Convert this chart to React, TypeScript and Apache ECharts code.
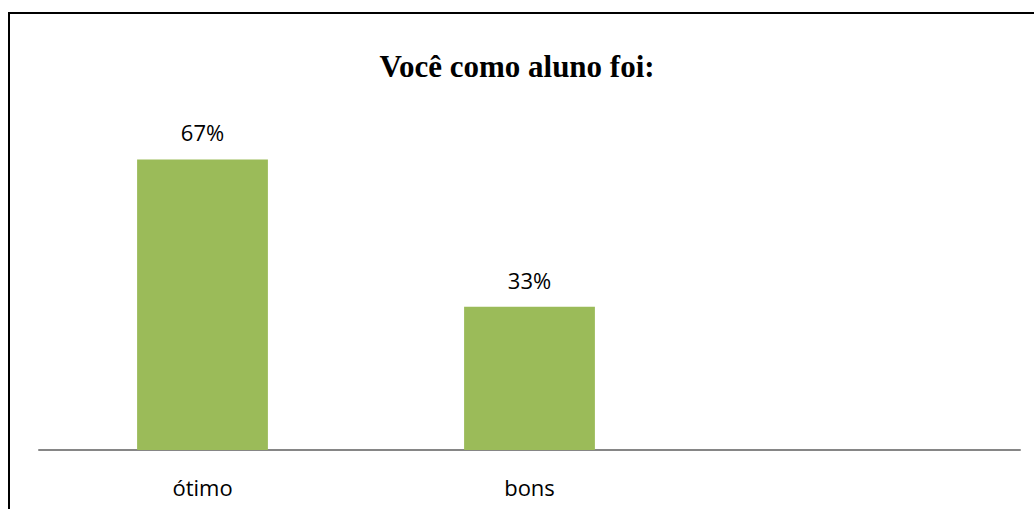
import React, { useEffect, useRef } from "react";
import * as echarts from "echarts";

const categories = ["ótimo", "bons", ""];
const values = [0.67, 0.33, null];
const titleText = "Você como aluno foi:";

export default function App() {
  const ref = useRef<HTMLDivElement>(null);
  useEffect(() => {
    document.body.style.margin = "0";
    const chart = echarts.init(ref.current!, null, { renderer: "svg" });
    chart.setOption({
      animation: false,
      backgroundColor: "#ffffff",
      title: {
        text: titleText,
        left: "center",
        top: 46,
        textStyle: {
          fontFamily: "Liberation Serif",
          fontWeight: "bold",
          fontSize: 31,
          color: "#000000",
        },
      },
      graphic: [
        {
          type: "rect",
          shape: { x: 9, y: 13, width: 1200, height: 700 },
          style: { fill: "none", stroke: "#000000", lineWidth: 2 },
          silent: true,
        },
      ],
      grid: { left: 39, right: 14, top: 103, bottom: 59 },
      xAxis: {
        type: "category",
        data: categories,
        axisLine: { lineStyle: { color: "#868686", width: 2 } },
        axisTick: { show: false },
        axisLabel: {
          color: "#000000",
          fontFamily: "Open Sans",
          fontSize: 22,
          margin: 26,
        },
      },
      yAxis: {
        type: "value",
        min: 0,
        max: 0.8,
        show: false,
        splitLine: { show: false },
      },
      series: [
        {
          type: "bar",
          data: values,
          barWidth: "40%",
          itemStyle: { color: "#9BBB59" },
          label: {
            show: true,
            position: "top",
            distance: 16,
            color: "#000000",
            fontFamily: "Open Sans",
            fontSize: 22,
            formatter: (p: any) => Math.round(p.value * 100) + "%",
          },
        },
      ],
    });
    return () => chart.dispose();
  }, []);
  return <div ref={ref} style={{ width: 1034, height: 509 }} />;
}
